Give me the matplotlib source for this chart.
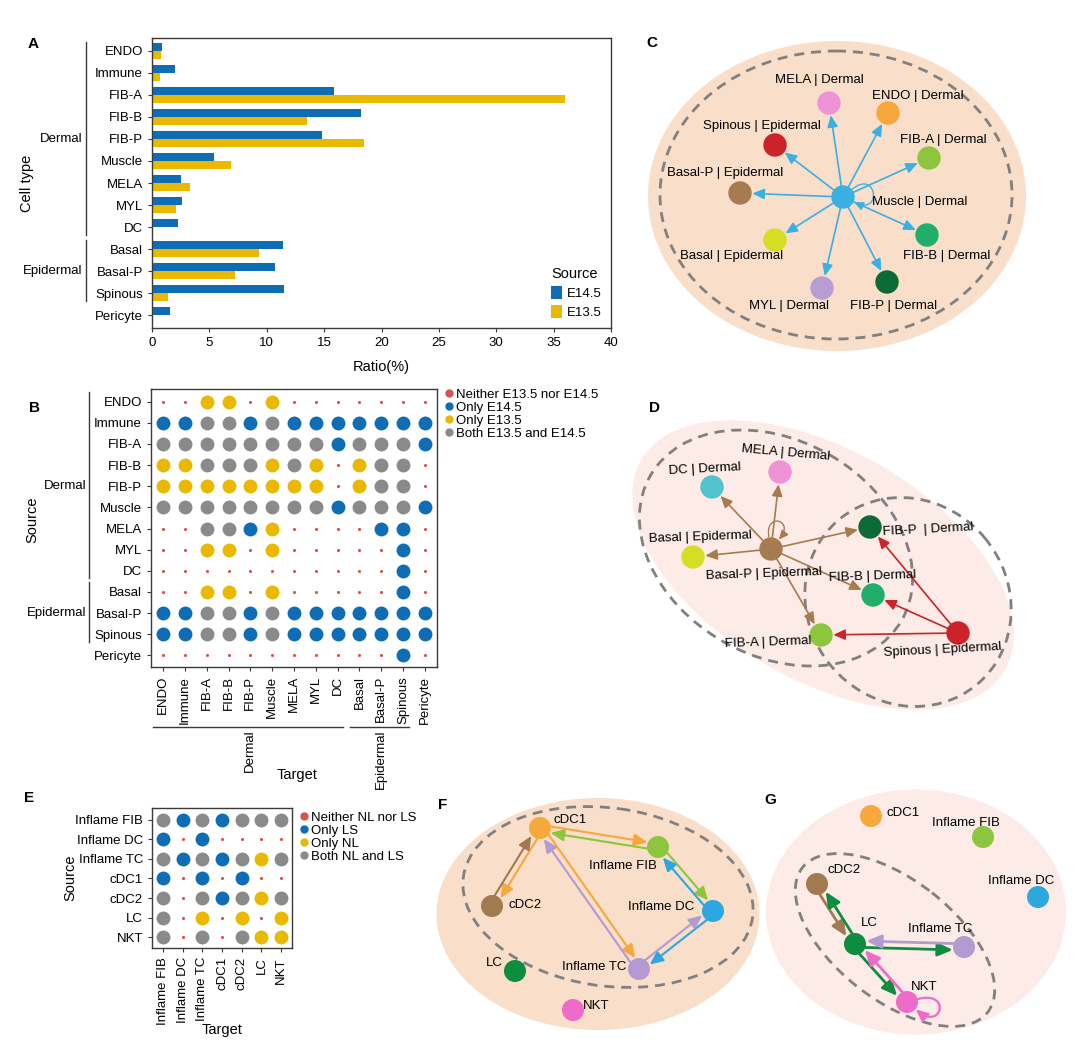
import numpy as np
import matplotlib.pyplot as plt
import matplotlib.transforms as mtransforms
from matplotlib.lines import Line2D
from matplotlib.path import Path
from matplotlib.patches import Circle, Ellipse, FancyArrowPatch

plt.rcParams['font.family'] = ['Liberation Sans', 'DejaVu Sans']
plt.rcParams['font.size'] = 9
plt.rcParams['axes.edgecolor'] = '#3a3a3a'
plt.rcParams['axes.linewidth'] = 1.0
plt.rcParams['xtick.color'] = '#3a3a3a'
plt.rcParams['ytick.color'] = '#3a3a3a'
plt.rcParams['xtick.labelcolor'] = 'black'
plt.rcParams['ytick.labelcolor'] = 'black'

W, H = 1080, 1044

# ---------------- data ----------------
# panel A: cell type ratios
cell_types = ['ENDO', 'Immune', 'FIB-A', 'FIB-B', 'FIB-P', 'Muscle', 'MELA',
              'MYL', 'DC', 'Basal', 'Basal-P', 'Spinous', 'Pericyte']
ratio_e145 = [0.9, 2.0, 15.9, 18.2, 14.8, 5.4, 2.5, 2.6, 2.3, 11.4, 10.7, 11.5, 1.6]
ratio_e135 = [0.8, 0.7, 36.0, 13.5, 18.5, 6.9, 3.3, 2.1, 0.0, 9.3, 7.2, 1.4, 0.0]
group_names = ['Dermal', 'Epidermal']
group_spans = [(0, 8), (9, 11)]

# panel B: 0 neither, 1 only E14.5, 2 only E13.5, 3 both  (rows = source, cols = target)
status_B = [
    [0, 0, 2, 2, 0, 2, 0, 0, 0, 0, 0, 0, 0],
    [1, 1, 3, 3, 1, 3, 1, 1, 1, 1, 1, 1, 1],
    [3, 3, 3, 3, 3, 3, 3, 3, 1, 3, 3, 3, 1],
    [2, 2, 3, 3, 3, 2, 3, 2, 0, 2, 3, 3, 0],
    [2, 2, 2, 2, 2, 2, 2, 2, 0, 2, 3, 3, 0],
    [3, 3, 3, 3, 3, 3, 3, 3, 1, 3, 3, 3, 1],
    [0, 0, 3, 3, 1, 2, 0, 0, 0, 0, 1, 1, 0],
    [0, 0, 2, 2, 0, 2, 0, 0, 0, 0, 0, 1, 0],
    [0, 0, 0, 0, 0, 0, 0, 0, 0, 0, 0, 1, 0],
    [0, 0, 2, 2, 0, 2, 0, 0, 0, 0, 0, 1, 0],
    [1, 1, 3, 3, 1, 3, 1, 1, 1, 1, 1, 1, 1],
    [1, 1, 3, 3, 1, 3, 1, 1, 1, 1, 1, 1, 1],
    [0, 0, 0, 0, 0, 0, 0, 0, 0, 0, 0, 1, 0],
]
legend_B = ['Neither E13.5 nor E14.5', 'Only E14.5', 'Only E13.5', 'Both E13.5 and E14.5']

# panel E
immune_types = ['Inflame FIB', 'Inflame DC', 'Inflame TC', 'cDC1', 'cDC2', 'LC', 'NKT']
status_E = [
    [3, 1, 3, 1, 3, 3, 3],
    [1, 0, 1, 0, 0, 0, 0],
    [3, 1, 3, 1, 3, 2, 3],
    [1, 0, 1, 0, 1, 0, 0],
    [3, 0, 3, 1, 3, 2, 3],
    [3, 0, 2, 0, 2, 0, 2],
    [3, 0, 3, 0, 3, 2, 2],
]
legend_E = ['Neither NL nor LS', 'Only LS', 'Only NL', 'Both NL and LS']

# network panels (layout positions in figure pixels)
c_nodes = ['Muscle', 'MELA', 'ENDO', 'Spinous', 'FIB-A', 'Basal-P', 'Basal', 'FIB-B', 'MYL', 'FIB-P']
c_labels = ['Muscle | Dermal', 'MELA | Dermal', 'ENDO | Dermal', 'Spinous | Epidermal', 'FIB-A | Dermal',
            'Basal-P | Epidermal', 'Basal | Epidermal', 'FIB-B | Dermal', 'MYL | Dermal', 'FIB-P | Dermal']
c_x = [843, 829, 888, 775, 929, 740, 775, 927, 822, 887]
c_y = [197, 103, 113, 145, 158, 193, 240, 235, 288, 282]
c_lab_x = [920, 819, 918, 762, 943, 725, 732, 947, 789, 894]
c_lab_y = [202, 80, 96, 126, 140, 173, 256, 256, 306, 306]
c_edges = [('Muscle', t) for t in c_nodes]

d_nodes = ['Basal-P', 'DC', 'MELA', 'Basal', 'FIB-P', 'FIB-B', 'FIB-A', 'Spinous']
d_labels = ['Basal-P | Epidermal', 'DC | Dermal', 'MELA | Dermal', 'Basal | Epidermal',
            'FIB-P  | Dermal', 'FIB-B | Dermal', 'FIB-A | Dermal', 'Spinous | Epidermal']
d_x = [771, 712, 780, 693, 870, 873, 821, 958]
d_y = [549, 487, 472, 557, 527, 595, 635, 633]
d_lab_x = [764, 705, 786, 700, 928, 872, 768, 943]
d_lab_y = [574, 469, 453, 537, 530, 576, 642, 650]
d_lab_rot = [2, 3, -5, 2, 3, 2, 2, 3]
d_edges = [('Basal-P', 'DC'), ('Basal-P', 'MELA'), ('Basal-P', 'Basal'), ('Basal-P', 'FIB-P'),
           ('Basal-P', 'FIB-B'), ('Basal-P', 'FIB-A'), ('Basal-P', 'Basal-P'),
           ('Spinous', 'FIB-P'), ('Spinous', 'FIB-B'), ('Spinous', 'FIB-A')]

fg_nodes = ['cDC1', 'Inflame FIB', 'cDC2', 'Inflame DC', 'Inflame TC', 'LC', 'NKT']
f_x = [540, 658, 492, 713, 639, 515, 573]
f_y = [828, 847, 906, 911, 969, 971, 1010]
f_lab_x = [570, 623, 525, 661, 594, 494, 596]
f_lab_y = [820, 866, 905, 907, 967, 963, 1006]
f_edges = [('cDC1', 'Inflame FIB'), ('Inflame FIB', 'cDC1'), ('cDC1', 'cDC2'), ('cDC2', 'cDC1'),
           ('cDC1', 'Inflame TC'), ('Inflame TC', 'cDC1'), ('Inflame FIB', 'Inflame DC'),
           ('Inflame DC', 'Inflame FIB'), ('Inflame DC', 'Inflame TC'), ('Inflame TC', 'Inflame DC')]

g_x = [871, 983, 817, 1038, 964, 855, 907]
g_y = [816, 837, 884, 897, 947, 944, 1002]
g_lab_x = [903, 966, 844, 1021, 940, 869, 924]
g_lab_y = [813, 823, 870, 881, 929, 923, 987]
g_edges = [('cDC2', 'LC'), ('LC', 'cDC2'), ('LC', 'Inflame TC'), ('Inflame TC', 'LC'),
           ('LC', 'NKT'), ('NKT', 'LC'), ('NKT', 'NKT')]

# ---------------- styles ----------------
BLUE, YELLOW = '#0F6DB6', '#EBB800'
DOT_COLORS = ['#D9534F', BLUE, YELLOW, '#8A8A8A']
DOT_SIZES = [5, 100, 100, 100]
node_colors = {'Muscle': '#3BAFE2', 'MELA': '#EE93D6', 'ENDO': '#F6A83C', 'Spinous': '#CC2229',
               'FIB-A': '#8CC63F', 'Basal-P': '#A57B4F', 'Basal': '#D6DE23', 'FIB-B': '#20AE6A',
               'MYL': '#B69DD2', 'FIB-P': '#0B6A35', 'DC': '#52C3CC',
               'cDC1': '#F6A83C', 'Inflame FIB': '#8CC63F', 'cDC2': '#A27A50',
               'Inflame DC': '#2CA7E0', 'Inflame TC': '#B39AD1', 'LC': '#0E8C3F', 'NKT': '#EE6BC9'}
PEACH, PINK, DASH = '#F9DEC9', '#FCEBE6', '#808080'

fig = plt.figure(figsize=(W / 100, H / 100), dpi=100)


def px_axes(left, top, right, bottom):
    return fig.add_axes([left / W, 1 - bottom / H, (right - left) / W, (bottom - top) / H])


# ---------------- panel A ----------------
axA = px_axes(152, 38, 611, 328)
y = np.arange(len(cell_types))
axA.barh(y - 0.175, ratio_e145, height=0.35, color=BLUE, label='E14.5')
axA.barh(y + 0.175, ratio_e135, height=0.35, color=YELLOW, label='E13.5')
axA.set_ylim(len(cell_types) - 0.41, -0.59)
axA.set_xlim(0, 40)
axA.set_yticks(y, cell_types)
axA.set_xticks(range(0, 41, 5))
axA.tick_params(length=3, labelsize=9.5)
axA.set_xlabel('Ratio(%)', fontsize=10.5, labelpad=8)
axA.text(-0.272, 0.5, 'Cell type', transform=axA.transAxes, rotation=90,
         ha='center', va='center', fontsize=10.5)
leg = axA.legend(title='Source', loc='lower right', frameon=False, handlelength=0.8,
                 handleheight=1.2, handletextpad=0.4, labelspacing=0.35, fontsize=9.5,
                 title_fontsize=10.5, borderaxespad=0.3, alignment='left')
transA = mtransforms.blended_transform_factory(axA.transAxes, axA.transData)
for name, (i0, i1) in zip(group_names, group_spans):
    axA.plot([-0.144, -0.144], [i0 - 0.4, i1 + 0.35], transform=transA,
             color='#3a3a3a', lw=1, clip_on=False)
    axA.text(-0.152, (i0 + i1) / 2, name, transform=transA, ha='right', va='center', fontsize=9.5)


# ---------------- dot matrices ----------------
def dot_matrix(ax, status, rows, cols, legend_labels):
    arr = np.array(status)
    rr, cc = np.indices(arr.shape)
    for code in range(4):
        m = arr == code
        ax.scatter(cc[m], rr[m], s=DOT_SIZES[code], color=DOT_COLORS[code], linewidths=0, zorder=3)
    ax.set_xlim(-0.55, len(cols) - 0.45)
    ax.set_ylim(len(rows) - 0.45, -0.6)
    ax.set_yticks(range(len(rows)), rows)
    ax.set_xticks(range(len(cols)), cols, rotation=90)
    ax.tick_params(length=3, labelsize=9.5)
    handles = [Line2D([], [], ls='none', marker='o', markersize=5, color=c) for c in DOT_COLORS]
    ax.legend(handles, legend_labels, loc='upper left', bbox_to_anchor=(1.0, 1.03), frameon=False,
              handlelength=0.6, handletextpad=0.25, labelspacing=0.05, fontsize=9.5,
              borderaxespad=0.2)


axB = px_axes(151, 389, 437, 667)
dot_matrix(axB, status_B, cell_types, cell_types, legend_B)
axB.text(-0.416, 0.53, 'Source', transform=axB.transAxes, rotation=90,
         ha='center', va='center', fontsize=10.5)
tB = mtransforms.blended_transform_factory(axB.transAxes, axB.transData)
for name, (i0, i1) in zip(group_names, group_spans):
    axB.plot([-0.217, -0.217], [i0 - 0.45, i1 + 0.35], transform=tB,
             color='#3a3a3a', lw=1, clip_on=False)
    axB.text(-0.227, (i0 + i1) / 2, name, transform=tB, ha='right', va='center', fontsize=9.5)
tBx = mtransforms.blended_transform_factory(axB.transData, axB.transAxes)
for name, (i0, i1) in zip(group_names, group_spans):
    axB.plot([i0 - 0.45, i1 + 0.25], [-0.216, -0.216], transform=tBx,
             color='#3a3a3a', lw=1, clip_on=False)
    axB.text((i0 + i1) / 2, -0.225, name, transform=tBx, rotation=90,
             ha='center', va='top', fontsize=9.5)
axB.text(0.51, -0.39, 'Target', transform=axB.transAxes, ha='center', va='center', fontsize=10.5)

axE = px_axes(152, 808, 292, 948)
dot_matrix(axE, status_E, immune_types, immune_types, legend_E)
axE.text(-0.586, 0.5, 'Source', transform=axE.transAxes, rotation=90,
         ha='center', va='center', fontsize=10.5)
axE.text(0.5, -0.586, 'Target', transform=axE.transAxes, ha='center', va='center', fontsize=10.5)

# ---------------- network panels ----------------
net = fig.add_axes([0, 0, 1, 1], facecolor='none')
net.set_xlim(0, W)
net.set_ylim(H, 0)
net.axis('off')

for letter, lx, ly in [('A', 33, 44), ('B', 34, 408), ('C', 652, 43), ('D', 655, 408),
                       ('E', 29, 798), ('F', 443, 805), ('G', 770, 800)]:
    net.text(lx, ly, letter, fontsize=11, fontweight='bold', ha='center', va='center')


def ellipse(cx, cy, w, h, ang=0, fill=None):
    if fill:
        net.add_patch(Ellipse((cx, cy), w, h, angle=ang, facecolor=fill, edgecolor='none', zorder=1))
    else:
        net.add_patch(Ellipse((cx, cy), w, h, angle=ang, facecolor='none', edgecolor=DASH,
                              lw=2, linestyle=(0, (3.6, 2.5)), zorder=2))


def draw_net(names, xs, ys, edges, r, lw, head, side=1, loops=None):
    circ = {}
    for n, x, yy in zip(names, xs, ys):
        p = Circle((x, yy), r, facecolor=node_colors[n], edgecolor='none', zorder=5)
        net.add_patch(p)
        circ[n] = (p, x, yy)
    pairs = set(edges)
    for s, t in edges:
        ps, x0, y0 = circ[s]
        pt, x1, y1 = circ[t]
        col = node_colors[s]
        if s == t:
            # self loop as a cubic bezier leaving and re-entering the node
            a1, a2, reach = loops[s]
            a1, a2 = np.radians(a1), np.radians(a2)
            pts = [(x0 + (r + 0.5) * np.cos(a1), y0 + (r + 0.5) * np.sin(a1)),
                   (x0 + reach * np.cos(a1), y0 + reach * np.sin(a1)),
                   (x0 + reach * np.cos(a2), y0 + reach * np.sin(a2)),
                   (x0 + (r + 0.5) * np.cos(a2), y0 + (r + 0.5) * np.sin(a2))]
            loop = Path(pts, [Path.MOVETO, Path.CURVE4, Path.CURVE4, Path.CURVE4])
            hs = head * 0.8
            arr = FancyArrowPatch(path=loop,
                                  arrowstyle=f'-|>,head_length={hs},head_width={hs * 0.45}',
                                  mutation_scale=1, color=col, lw=lw * 0.8, zorder=4)
        else:
            dx, dy = x1 - x0, y1 - y0
            L = np.hypot(dx, dy)
            off = 3.2 * side if (t, s) in pairs else 0.0
            ox, oy = off * dy / L, -off * dx / L
            arr = FancyArrowPatch((x0 + ox, y0 + oy), (x1 + ox, y1 + oy), patchA=ps, patchB=pt,
                                  arrowstyle=f'-|>,head_length={head},head_width={head * 0.45}',
                                  mutation_scale=1, color=col, lw=lw,
                                  shrinkA=0, shrinkB=0.5, zorder=4)
        net.add_patch(arr)


# C
ellipse(837, 196, 378, 310, fill=PEACH)
ellipse(836, 195, 352, 288)
draw_net(c_nodes, c_x, c_y, c_edges, 11.7, 1.2, 7, loops={'Muscle': (-40, 25, 44)})
for t, lx, ly in zip(c_labels, c_lab_x, c_lab_y):
    net.text(lx, ly, t, ha='center', va='center', fontsize=9.5, zorder=6)

# D
ellipse(823, 565, 420, 230, 30, fill=PINK)
ellipse(776, 548, 290, 215, 30)
ellipse(908, 602, 215, 200, 50)
draw_net(d_nodes, d_x, d_y, d_edges, 11.7, 1.2, 7, loops={'Basal-P': (-100, -50, 38)})
for t, lx, ly, rot in zip(d_labels, d_lab_x, d_lab_y, d_lab_rot):
    net.text(lx, ly, t, ha='center', va='center', rotation=rot, fontsize=9.5, zorder=6)

# F
ellipse(598, 914, 323, 232, fill=PEACH)
ellipse(608, 897, 292, 178, 8)
draw_net(fg_nodes, f_x, f_y, f_edges, 11, 1.5, 8, side=1)
for t, lx, ly in zip(fg_nodes, f_lab_x, f_lab_y):
    net.text(lx, ly, t, ha='center', va='center', fontsize=9.5, zorder=6)

# G
ellipse(916, 912, 300, 245, fill=PINK)
ellipse(895, 940, 235, 120, 38)
draw_net(fg_nodes, g_x, g_y, g_edges, 11, 2.0, 9, side=-1, loops={'NKT': (-15, 40, 46)})
for t, lx, ly in zip(fg_nodes, g_lab_x, g_lab_y):
    net.text(lx, ly, t, ha='center', va='center', fontsize=9.5, zorder=6)

fig.savefig('out.png', dpi=100)
